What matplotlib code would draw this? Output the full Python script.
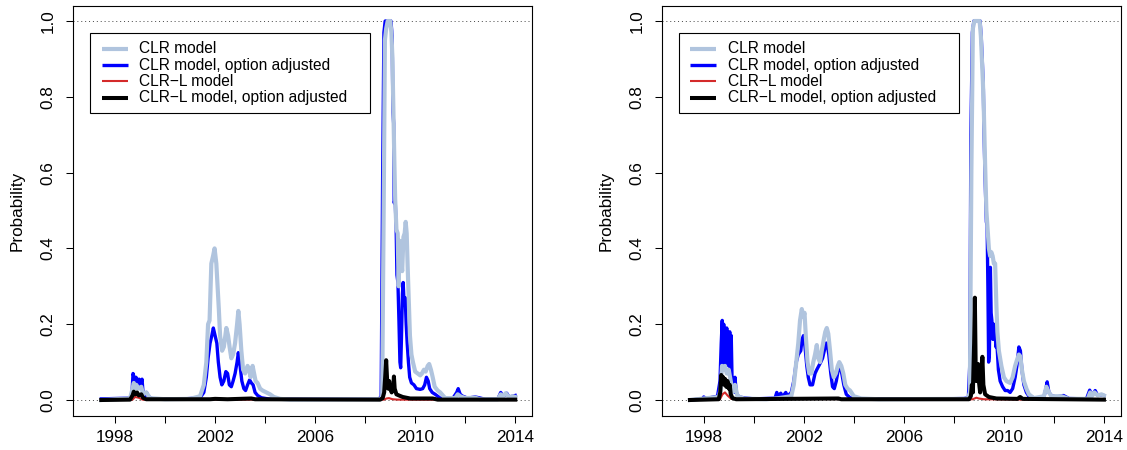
import numpy as np
import matplotlib.pyplot as plt
from matplotlib.patches import Rectangle

plt.rcParams['font.family'] = ['Liberation Sans', 'DejaVu Sans']

# ---- left panel: crisis probabilities ----
l_clr_t = [1997.45, 1998.0, 1998.6, 1998.7, 1998.75, 1998.8, 1998.85, 1998.95, 1999.05, 1999.12,
           1999.25, 1999.4, 2000.0, 2001.0, 2001.4, 2001.55, 2001.65, 2001.72, 2001.78, 2001.85,
           2001.92, 2001.98, 2002.05, 2002.1, 2002.15, 2002.2, 2002.28, 2002.35, 2002.45, 2002.52,
           2002.58, 2002.65, 2002.72, 2002.8, 2002.88, 2002.93, 2002.98, 2003.05, 2003.12, 2003.2,
           2003.3, 2003.36, 2003.42, 2003.5, 2003.56, 2003.62, 2003.7, 2003.8, 2003.9, 2004.05,
           2004.2, 2004.35, 2004.6, 2005.0, 2008.6, 2008.68, 2008.74, 2008.79, 2008.84, 2008.9,
           2009.0, 2009.05, 2009.09, 2009.13, 2009.17, 2009.2, 2009.25, 2009.3, 2009.34, 2009.38,
           2009.43, 2009.48, 2009.53, 2009.58, 2009.62, 2009.66, 2009.7, 2009.75, 2009.79, 2009.85,
           2009.91, 2010.0, 2010.1, 2010.2, 2010.27, 2010.35, 2010.42, 2010.5, 2010.56, 2010.63,
           2010.7, 2010.78, 2010.9, 2011.0, 2011.2, 2011.6, 2011.7, 2011.8, 2012.0, 2012.4,
           2012.6, 2013.3, 2013.42, 2013.5, 2013.62, 2013.75, 2013.9, 2014.0]
l_clr_v = [0.0, 0.002, 0.004, 0.03, 0.045, 0.03, 0.04, 0.03, 0.035, 0.015,
           0.02, 0.005, 0.002, 0.003, 0.01, 0.04, 0.1, 0.2, 0.21, 0.36,
           0.38, 0.40, 0.36, 0.3, 0.24, 0.17, 0.13, 0.14, 0.19, 0.17,
           0.14, 0.11, 0.12, 0.15, 0.2, 0.235, 0.2, 0.13, 0.08, 0.07,
           0.09, 0.08, 0.06, 0.09, 0.07, 0.05, 0.045, 0.03, 0.025, 0.02,
           0.015, 0.008, 0.003, 0.001, 0.002, 0.01, 0.5, 0.95, 0.98, 1.0,
           1.0, 0.97, 0.9, 0.76, 0.62, 0.53, 0.45, 0.44, 0.3, 0.42,
           0.38, 0.34, 0.43, 0.44, 0.47, 0.44, 0.35, 0.25, 0.17, 0.12,
           0.1, 0.075, 0.07, 0.065, 0.07, 0.08, 0.075, 0.09, 0.095, 0.08,
           0.06, 0.035, 0.025, 0.02, 0.005, 0.005, 0.015, 0.01, 0.005, 0.006,
           0.002, 0.002, 0.015, 0.008, 0.018, 0.007, 0.01, 0.008]

l_opt_t = [1997.45, 1998.6, 1998.68, 1998.72, 1998.76, 1998.8, 1998.84, 1998.9, 1998.96, 1999.02,
           1999.08, 1999.12, 1999.18, 1999.26, 1999.32, 1999.5, 2000.5, 2001.0, 2001.4, 2001.55,
           2001.65, 2001.72, 2001.8, 2001.87, 2001.93, 2002.0, 2002.07, 2002.13, 2002.2, 2002.27,
           2002.35, 2002.43, 2002.5, 2002.57, 2002.65, 2002.72, 2002.8, 2002.88, 2002.93, 2003.0,
           2003.07, 2003.15, 2003.22, 2003.3, 2003.38, 2003.45, 2003.52, 2003.6, 2003.7, 2003.85,
           2004.2, 2008.55, 2008.64, 2008.7, 2008.75, 2008.8, 2009.03, 2009.08, 2009.11, 2009.14,
           2009.16, 2009.2, 2009.24, 2009.27, 2009.31, 2009.35, 2009.39, 2009.42, 2009.45, 2009.49,
           2009.52, 2009.56, 2009.6, 2009.64, 2009.68, 2009.73, 2009.78, 2009.85, 2009.95, 2010.05,
           2010.2, 2010.3, 2010.38, 2010.45, 2010.52, 2010.58, 2010.68, 2010.8, 2011.0, 2011.5,
           2011.66, 2011.72, 2011.8, 2011.9, 2012.1, 2012.4, 2012.55, 2012.8, 2013.3, 2013.42,
           2013.5, 2013.6, 2013.66, 2013.75, 2013.9, 2014.0]
l_opt_v = [0.003, 0.005, 0.02, 0.07, 0.06, 0.045, 0.06, 0.04, 0.055, 0.04,
           0.055, 0.02, 0.01, 0.02, 0.01, 0.003, 0.002, 0.004, 0.006, 0.02,
           0.06, 0.11, 0.15, 0.17, 0.19, 0.17, 0.15, 0.1, 0.06, 0.04,
           0.05, 0.075, 0.07, 0.04, 0.035, 0.05, 0.07, 0.1, 0.125, 0.09,
           0.05, 0.03, 0.025, 0.04, 0.053, 0.045, 0.04, 0.02, 0.012, 0.006,
           0.002, 0.002, 0.01, 0.6, 0.97, 1.0, 1.0, 0.96, 0.76, 0.73,
           0.52, 0.53, 0.45, 0.33, 0.31, 0.21, 0.1, 0.085, 0.16, 0.28,
           0.31, 0.25, 0.27, 0.2, 0.15, 0.1, 0.06, 0.045, 0.04, 0.03,
           0.028, 0.03, 0.04, 0.06, 0.05, 0.03, 0.02, 0.015, 0.005, 0.004,
           0.02, 0.03, 0.015, 0.01, 0.005, 0.008, 0.006, 0.002, 0.002, 0.02,
           0.01, 0.012, 0.018, 0.008, 0.01, 0.012]

l_clrl_t = [1997.45, 1998.7, 1998.8, 1998.95, 1999.1, 2008.75, 2008.85, 2008.95, 2009.1, 2009.3, 2014.0]
l_clrl_v = [0.0, 0.001, 0.008, 0.006, 0.001, 0.001, 0.004, 0.005, 0.002, 0.001, 0.0]

l_lopt_t = [1997.45, 1998.6, 1998.7, 1998.75, 1998.8, 1998.88, 1998.95, 1999.05, 1999.12, 1999.25,
            2001.8, 2002.0, 2002.5, 2003.45, 2003.6, 2008.6, 2008.7, 2008.76, 2008.8, 2008.84,
            2008.88, 2008.92, 2008.96, 2009.0, 2009.06, 2009.12, 2009.15, 2009.18, 2009.25, 2009.35,
            2009.5, 2009.8, 2010.7, 2010.9, 2014.0]
l_lopt_v = [0.0, 0.001, 0.012, 0.022, 0.015, 0.02, 0.012, 0.015, 0.006, 0.002,
            0.002, 0.003, 0.002, 0.004, 0.002, 0.001, 0.005, 0.02, 0.06, 0.105,
            0.05, 0.03, 0.05, 0.03, 0.02, 0.03, 0.062, 0.03, 0.015, 0.012,
            0.008, 0.004, 0.004, 0.001, 0.001]

# ---- right panel ----
r_clr_t = [1997.45, 1998.0, 1998.6, 1998.68, 1998.73, 1998.78, 1998.85, 1998.92, 1999.0, 1999.08,
           1999.15, 1999.25, 1999.35, 1999.6, 2000.5, 2001.0, 2001.5, 2001.6, 2001.7, 2001.78,
           2001.85, 2001.92, 2001.98, 2002.03, 2002.08, 2002.15, 2002.22, 2002.3, 2002.38, 2002.45,
           2002.52, 2002.58, 2002.65, 2002.72, 2002.8, 2002.86, 2002.92, 2002.98, 2003.05, 2003.12,
           2003.2, 2003.28, 2003.36, 2003.42, 2003.5, 2003.58, 2003.66, 2003.75, 2003.85, 2004.0,
           2004.3, 2005.0, 2008.55, 2008.64, 2008.7, 2008.76, 2008.82, 2009.03, 2009.08, 2009.12,
           2009.16, 2009.2, 2009.25, 2009.3, 2009.35, 2009.4, 2009.45, 2009.5, 2009.55, 2009.6,
           2009.65, 2009.7, 2009.74, 2009.8, 2009.9, 2010.0, 2010.1, 2010.25, 2010.35, 2010.45,
           2010.52, 2010.6, 2010.66, 2010.72, 2010.8, 2010.9, 2011.0, 2011.2, 2011.6, 2011.7,
           2011.8, 2011.9, 2012.3, 2012.6, 2013.35, 2013.45, 2013.52, 2013.62, 2013.75, 2013.9,
           2014.0]
r_clr_v = [0.0, 0.004, 0.008, 0.03, 0.09, 0.08, 0.09, 0.07, 0.08, 0.05,
           0.02, 0.04, 0.01, 0.004, 0.002, 0.005, 0.01, 0.04, 0.1, 0.15,
           0.21, 0.24, 0.22, 0.23, 0.17, 0.1, 0.07, 0.07, 0.1, 0.12,
           0.145, 0.11, 0.1, 0.13, 0.16, 0.18, 0.19, 0.175, 0.13, 0.08,
           0.06, 0.07, 0.09, 0.1, 0.09, 0.07, 0.04, 0.03, 0.025, 0.01,
           0.004, 0.002, 0.003, 0.02, 0.6, 0.98, 1.0, 1.0, 0.96, 0.9,
           0.84, 0.76, 0.62, 0.5, 0.45, 0.4, 0.38, 0.39, 0.38, 0.36,
           0.36, 0.25, 0.18, 0.13, 0.09, 0.06, 0.05, 0.045, 0.06, 0.09,
           0.105, 0.12, 0.115, 0.08, 0.05, 0.03, 0.015, 0.005, 0.01, 0.035,
           0.02, 0.01, 0.01, 0.003, 0.003, 0.02, 0.01, 0.02, 0.012, 0.015,
           0.012]

r_opt_t = [1997.45, 1997.95, 1998.0, 1998.1, 1998.55, 1998.65, 1998.7, 1998.74, 1998.77, 1998.8,
           1998.83, 1998.86, 1998.89, 1998.92, 1998.95, 1998.98, 1999.01, 1999.04, 1999.07, 1999.1,
           1999.14, 1999.2, 1999.25, 1999.3, 1999.4, 1999.6, 2000.0, 2000.85, 2000.92, 2000.98,
           2001.08, 2001.15, 2001.28, 2001.35, 2001.5, 2001.6, 2001.7, 2001.78, 2001.88, 2001.93,
           2001.99, 2002.05, 2002.12, 2002.18, 2002.25, 2002.35, 2002.45, 2002.52, 2002.6, 2002.68,
           2002.75, 2002.82, 2002.88, 2002.93, 2003.0, 2003.08, 2003.15, 2003.22, 2003.3, 2003.38,
           2003.45, 2003.52, 2003.6, 2003.7, 2003.85, 2004.2, 2007.5, 2008.4, 2008.58, 2008.64,
           2008.68, 2008.74, 2008.8, 2009.05, 2009.1, 2009.14, 2009.18, 2009.2, 2009.25, 2009.3,
           2009.33, 2009.36, 2009.39, 2009.42, 2009.46, 2009.49, 2009.52, 2009.56, 2009.6, 2009.64,
           2009.68, 2009.72, 2009.78, 2009.85, 2009.95, 2010.05, 2010.15, 2010.25, 2010.35, 2010.45,
           2010.52, 2010.6, 2010.66, 2010.72, 2010.8, 2010.9, 2011.0, 2011.3, 2011.6, 2011.68,
           2011.73, 2011.8, 2011.9, 2012.1, 2012.38, 2012.6, 2013.3, 2013.43, 2013.5, 2013.58,
           2013.65, 2013.75, 2013.9, 2014.0]
r_opt_v = [0.0, 0.003, 0.008, 0.004, 0.01, 0.05, 0.15, 0.21, 0.09, 0.2,
           0.1, 0.18, 0.09, 0.19, 0.1, 0.17, 0.09, 0.18, 0.08, 0.17,
           0.03, 0.02, 0.06, 0.02, 0.008, 0.006, 0.003, 0.005, 0.02, 0.01,
           0.018, 0.008, 0.02, 0.01, 0.02, 0.05, 0.1, 0.12, 0.13, 0.16,
           0.17, 0.14, 0.09, 0.06, 0.04, 0.04, 0.07, 0.08, 0.09, 0.1,
           0.11, 0.13, 0.15, 0.15, 0.12, 0.07, 0.035, 0.03, 0.05, 0.08,
           0.09, 0.07, 0.04, 0.015, 0.006, 0.003, 0.003, 0.004, 0.006, 0.1,
           0.7, 0.97, 1.0, 1.0, 0.95, 0.89, 0.82, 0.72, 0.58, 0.47,
           0.46, 0.3, 0.1, 0.12, 0.35, 0.23, 0.21, 0.16, 0.2, 0.19,
           0.14, 0.15, 0.08, 0.05, 0.035, 0.025, 0.025, 0.02, 0.03, 0.06,
           0.09, 0.14, 0.13, 0.08, 0.04, 0.02, 0.01, 0.004, 0.008, 0.03,
           0.048, 0.02, 0.012, 0.008, 0.012, 0.004, 0.003, 0.026, 0.015, 0.018,
           0.025, 0.012, 0.014, 0.012]

r_clrl_t = [1997.45, 1998.65, 1998.75, 1998.85, 1998.95, 1999.1, 2008.75, 2008.9, 2009.0, 2009.2, 2014.0]
r_clrl_v = [0.0, 0.002, 0.015, 0.02, 0.012, 0.003, 0.002, 0.006, 0.004, 0.002, 0.0]

r_lopt_t = [1997.45, 1998.6, 1998.66, 1998.7, 1998.74, 1998.78, 1998.82, 1998.86, 1998.9, 1998.95,
            1999.0, 1999.04, 1999.08, 1999.15, 1999.3, 2003.38, 2003.5, 2008.6, 2008.68, 2008.72,
            2008.76, 2008.81, 2008.84, 2008.87, 2008.9, 2008.94, 2008.97, 2009.0, 2009.05, 2009.1,
            2009.14, 2009.18, 2009.25, 2009.4, 2009.7, 2010.55, 2010.65, 2010.75, 2014.0]
r_lopt_v = [0.0, 0.002, 0.02, 0.066, 0.05, 0.06, 0.04, 0.055, 0.035, 0.05,
            0.03, 0.04, 0.015, 0.005, 0.002, 0.004, 0.002, 0.002, 0.01, 0.04,
            0.02, 0.15, 0.27, 0.1, 0.05, 0.07, 0.095, 0.05, 0.02, 0.06,
            0.114, 0.04, 0.015, 0.008, 0.004, 0.003, 0.008, 0.003, 0.001]

labels = ['CLR model', 'CLR model, option adjusted',
          'CLR\u2212L model', 'CLR\u2212L model, option adjusted']
colors = ['#B0C4DE', '#0000FF', '#D42A2A', '#000000']
widths = [3.0, 2.4, 1.5, 2.9]

x_ticks = np.arange(1998, 2015, 2)
y_ticks = np.arange(0, 1.01, 0.2)


def draw_panel(ax, series):
    ax.axhline(0, color='#444444', lw=0.7, ls=(0, (1, 3)), zorder=1)
    ax.axhline(1, color='#444444', lw=0.7, ls=(0, (1, 3)), zorder=1)

    # option adjusted CLR goes underneath the plain CLR line
    order = [1, 0, 2, 3]
    for i in order:
        t, v = series[i]
        ax.plot(t, v, color=colors[i], lw=widths[i], solid_joinstyle='round', zorder=2 + order.index(i))

    ax.set_xlim(1996.32, 2014.67)
    ax.set_ylim(-0.0422, 1.0396)
    ax.set_xticks(x_ticks)
    ax.set_xticklabels([str(y) if (y - 1998) % 4 == 0 else '' for y in x_ticks])
    ax.set_yticks(y_ticks)
    ax.set_yticklabels(['%.1f' % y for y in y_ticks], rotation=90, va='center')
    ax.tick_params(direction='out', length=5, width=0.75, labelsize=12.3, colors='black')
    ax.tick_params(axis='y', pad=7.5)
    ax.tick_params(axis='x', pad=5)
    for s in ax.spines.values():
        s.set_linewidth(0.8)
        s.set_color('black')
    ax.set_ylabel('Probability', fontsize=12.3, va='center')
    ax.yaxis.set_label_coords(-0.122, 0.5)

    # legend box
    x0, x1, y0, y1 = 0.0377, 0.647, 0.7383, 0.9349
    ax.add_patch(Rectangle((x0, y0), x1 - x0, y1 - y0, transform=ax.transAxes,
                           fc='white', ec='black', lw=0.8, zorder=10))
    rows = [0.8959, 0.8559, 0.8159, 0.7759]
    for y, lab, col, lw in zip(rows, labels, colors, widths):
        ax.plot([0.0625, 0.1192], [y, y], transform=ax.transAxes, color=col, lw=lw,
                solid_capstyle='butt', zorder=11)
        ax.text(0.1438, y, lab, transform=ax.transAxes, va='center', ha='left',
                fontsize=11.2, zorder=11)


fig = plt.figure(figsize=(11.27, 4.5), dpi=100)
ax1 = fig.add_axes([73 / 1127, 34 / 450, 459 / 1127, 410 / 450])
ax2 = fig.add_axes([661.7 / 1127, 34 / 450, 459 / 1127, 410 / 450])

draw_panel(ax1, [(l_clr_t, l_clr_v), (l_opt_t, l_opt_v), (l_clrl_t, l_clrl_v), (l_lopt_t, l_lopt_v)])
draw_panel(ax2, [(r_clr_t, r_clr_v), (r_opt_t, r_opt_v), (r_clrl_t, r_clrl_v), (r_lopt_t, r_lopt_v)])

fig.savefig('out.png', dpi=100)
